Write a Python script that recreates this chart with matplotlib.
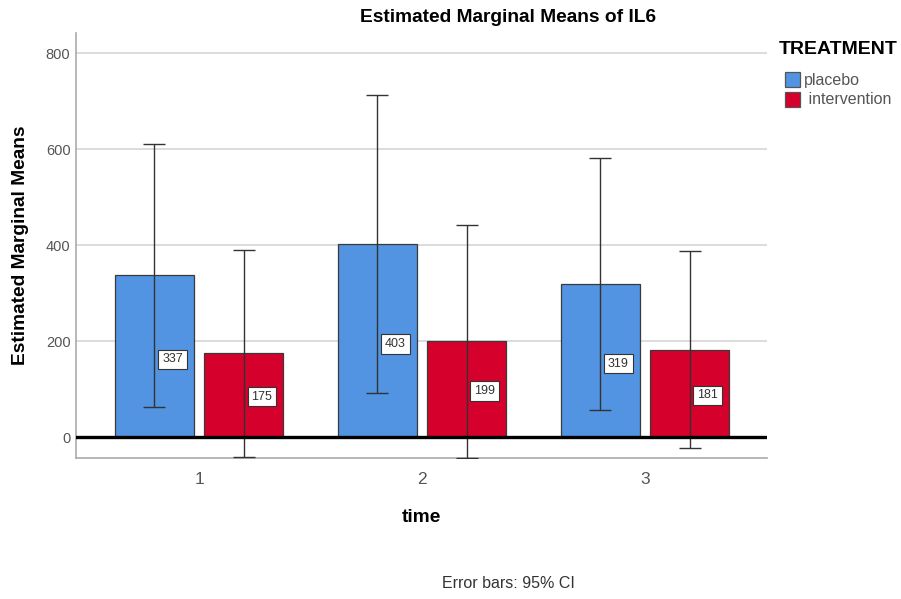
import matplotlib
matplotlib.use("Agg")
import matplotlib.pyplot as plt
import numpy as np
from matplotlib.patches import Rectangle

plt.rcParams['font.family'] = ['Liberation Sans', 'DejaVu Sans']

times = ["1", "2", "3"]
groups = ["placebo", " intervention"]
means_placebo = [337, 403, 319]
means_intervention = [175, 199, 181]
ci_low_placebo = [62, 92, 56]
ci_high_placebo = [611, 713, 581]
ci_low_intervention = [-42, -44, -23]
ci_high_intervention = [390, 442, 388]
y_ticks = [0, 200, 400, 600, 800]

col_placebo = "#5294E2"
col_intervention = "#D5002B"
colors = [col_placebo, col_intervention]

W, H = 901, 599
fig = plt.figure(figsize=(W / 100, H / 100), dpi=100)
ax = fig.add_axes([76 / W, 1 - 458 / H, 691 / W, 425 / H])

x = np.arange(1, len(times) + 1)
w = 0.354
off = 0.2

series = [
    (means_placebo, ci_low_placebo, ci_high_placebo, col_placebo, -off),
    (means_intervention, ci_low_intervention, ci_high_intervention, col_intervention, off),
]

for m, lo, hi, col, dx in series:
    m = np.array(m); lo = np.array(lo); hi = np.array(hi)
    ax.bar(x + dx, m, width=w, color=col, edgecolor="#3a3a3a", linewidth=0.9, zorder=2)
    ax.errorbar(x + dx, m, yerr=[m - lo, hi - m], fmt="none", ecolor="#333333",
                elinewidth=1.0, capsize=8, capthick=1.0, zorder=3)
    for xi, mi in zip(x + dx, m):
        ax.annotate(f"{mi}", (xi, mi * 0.48), xytext=(13, 0), textcoords="offset points",
                    ha="center", va="center", fontsize=9, color="#333333", zorder=4,
                    bbox=dict(boxstyle="square,pad=0.3", fc="white", ec="#333333", lw=0.8))

ax.set_xlim(0.448, 3.547)
ax.set_ylim(-43.75, 841.7)
ax.set_yticks(y_ticks)
ax.set_yticklabels([str(v) for v in y_ticks], fontsize=10.5, color="#555555")
ax.set_xticks(x)
ax.set_xticklabels(times, fontsize=12.5, color="#555555")
ax.tick_params(axis="y", length=0, pad=4)
ax.tick_params(axis="x", length=0, pad=10)

for v in y_ticks[1:]:
    ax.axhline(v, color="#dcdcdc", lw=1.4, zorder=0)
ax.axhline(0, color="black", lw=2.4, zorder=3)

for s in ["top", "right"]:
    ax.spines[s].set_visible(False)
for s in ["left", "bottom"]:
    ax.spines[s].set_color("#aaaaaa")
    ax.spines[s].set_linewidth(1.2)

ax.set_ylabel("Estimated Marginal Means", fontsize=13.8, fontweight="bold", va="center")
ax.yaxis.set_label_coords(-0.081, 0.5)
ax.set_xlabel("time", fontsize=13.8, fontweight="bold", va="center")
ax.xaxis.set_label_coords(0.5, -0.141)

fig.text(508 / W, 1 - 17 / H, "Estimated Marginal Means of IL6", ha="center", va="center",
         fontsize=13.8, fontweight="bold")
fig.text(508 / W, 1 - 583 / H, "Error bars: 95% CI", ha="center", va="center",
         fontsize=11.5, color="#333333")

# legend drawn in figure pixels
fig.text(779 / W, 1 - 50 / H, "TREATMENT", ha="left", va="center",
         fontsize=14, fontweight="bold")
for i, (name, col) in enumerate(zip(groups, colors)):
    y0 = 72 + i * 20
    fig.add_artist(Rectangle((785 / W, 1 - (y0 + 15) / H), 15 / W, 15 / H,
                             transform=fig.transFigure, facecolor=col,
                             edgecolor="#555555", lw=0.9))
    fig.text(804 / W, 1 - (y0 + 8) / H, name, ha="left", va="center",
             fontsize=11.5, color="#555555")

fig.savefig("out.png", dpi=100)
